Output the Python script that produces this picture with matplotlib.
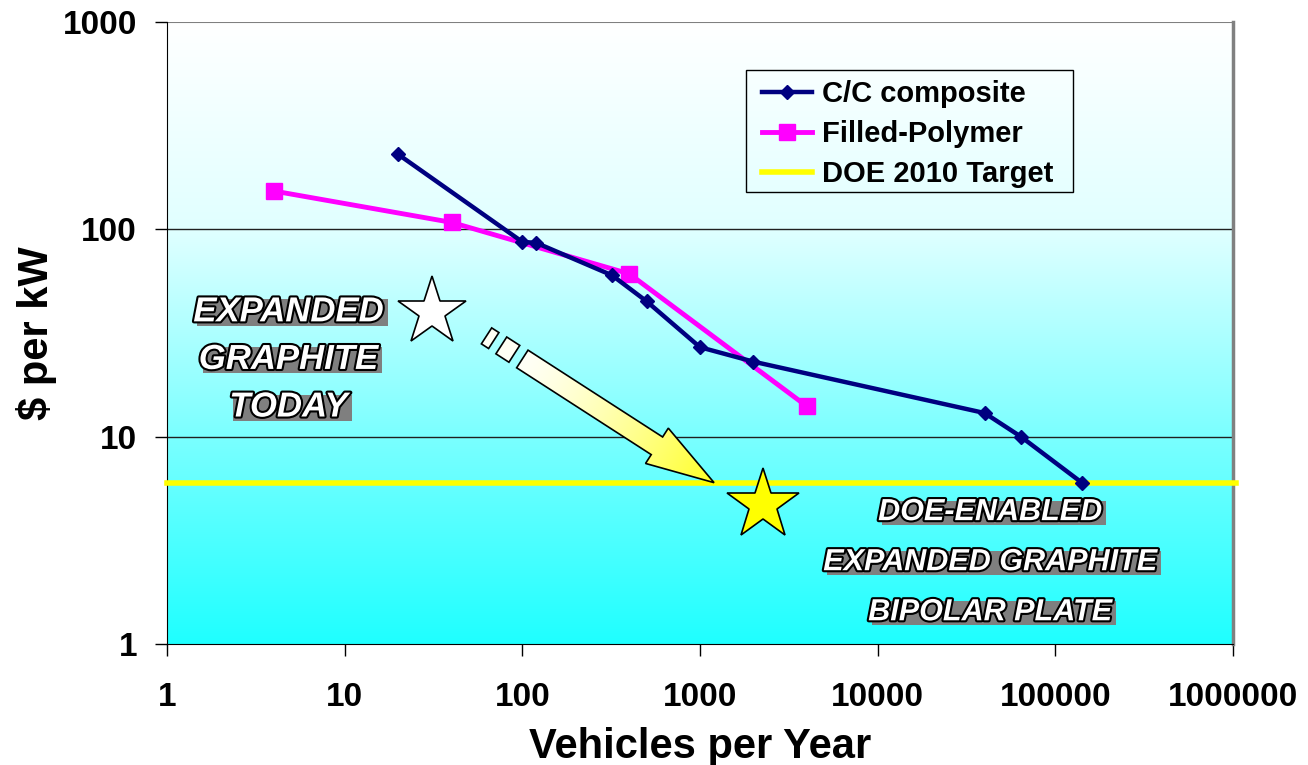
import numpy as np
import matplotlib
matplotlib.use('Agg')
import matplotlib.pyplot as plt
import matplotlib.patheffects as pe
from matplotlib.patches import Polygon, Rectangle
from matplotlib.ticker import FixedLocator, NullLocator

plt.rcParams['font.family'] = ['Liberation Sans', 'DejaVu Sans']
plt.rcParams['font.weight'] = 'bold'
plt.rcParams['axes.labelweight'] = 'bold'

# %%
# data
cc_vehicles = [20, 100, 120, 320, 500, 1000, 2000, 40000, 64000, 141000]
cc_cost = [230, 87, 86, 60, 45, 27, 23, 13, 10, 6]

fp_vehicles = [4, 40, 400, 4000]
fp_cost = [153, 108, 61, 14]

doe_target = 6

x_ticks = [1, 10, 100, 1000, 10000, 100000, 1000000]
x_labels = ['1', '10', '100', '1000', '10000', '100000', '1000000']
y_ticks = [1, 10, 100, 1000]
y_labels = ['1', '10', '100', '1000']

# annotation anchors in data coords
star_today = (31, 40)
star_doe = (2260, 4.7)
arrow_tail = (100, 23.7)
arrow_tip = (1200, 6)

left_text = ['EXPANDED', 'GRAPHITE', 'TODAY']
right_text = ['DOE-ENABLED', 'EXPANDED GRAPHITE', 'BIPOLAR PLATE']

# %%
W, H = 1308, 765
fig = plt.figure(figsize=(W / 100, H / 100), dpi=100)
ax = fig.add_axes([167 / W, 1 - 644 / H, (1233 - 167) / W, (644 - 22) / H])
ax.set_xscale('log')
ax.set_yscale('log')
ax.set_xlim(1, 1e6)
ax.set_ylim(1, 1000)

# background gradient, whitish at top to cyan at bottom
f = np.linspace(0, 1, 400)
r = np.interp(f, [0, 0.333, 0.667, 1.0], [0.12, 0.48, 0.88, 1.0])
grad = np.zeros((400, 1, 3))
grad[:, 0, 0] = r[::-1]
grad[:, 0, 1] = 1
grad[:, 0, 2] = 1
ax.patch.set_visible(False)
ax.imshow(grad, extent=[0, 1, 0, 1], transform=ax.transAxes, aspect='auto',
          zorder=0, interpolation='bilinear')
ax.set_xlim(1, 1e6)
ax.set_ylim(1, 1000)

for yv in [10, 100]:
    ax.axhline(yv, color='#202020', lw=1.0, zorder=1)
ax.axhline(1000, color='#808080', lw=1.5, zorder=1)

ax.axhline(doe_target, color='#FFFF00', lw=4, zorder=3, label='DOE 2010 Target',
           clip_on=False, xmax=1.003)
ax.plot(cc_vehicles, cc_cost, color='#000080', lw=3.2, marker='D', ms=7,
        zorder=5, label='C/C composite')
ax.plot(fp_vehicles, fp_cost, color='#FF00FF', lw=3.5, marker='s', ms=11,
        zorder=4, label='Filled-Polymer')

# stars
ax.plot(*star_today, marker='*', ms=52, mfc='white', mec='black', mew=1.2, zorder=6)
ax.plot(*star_doe, marker='*', ms=54, mfc='#FFFF00', mec='black', mew=1.2, zorder=6)

# axes styling
ax.spines['top'].set_visible(False)
ax.spines['right'].set_color('#808080')
ax.spines['right'].set_linewidth(2.5)
ax.spines['left'].set_color('black')
ax.spines['bottom'].set_color('black')
ax.xaxis.set_major_locator(FixedLocator(x_ticks))
ax.yaxis.set_major_locator(FixedLocator(y_ticks))
ax.xaxis.set_minor_locator(NullLocator())
ax.yaxis.set_minor_locator(NullLocator())
ax.set_xticklabels(x_labels)
ax.set_yticklabels(y_labels)
ax.tick_params(axis='both', direction='out', length=8.6, width=1, labelsize=24)
ax.tick_params(axis='x', pad=19)
ax.tick_params(axis='y', pad=13)
ax.set_xlabel('Vehicles per Year', fontsize=30, labelpad=10)
ax.set_ylabel('\\$ per kW', fontsize=30, labelpad=4)

h, l = ax.get_legend_handles_labels()
order = [1, 2, 0]
leg = ax.legend([h[i] for i in order], [l[i] for i in order],
                loc='upper left', bbox_to_anchor=(0.5513, 0.918),
                borderaxespad=0, fontsize=21, frameon=False,
                handlelength=1.72, handletextpad=0.34, labelspacing=0.41,
                borderpad=0.24)
leg.set_zorder(10)

# %%
# overlay in figure pixels for the arrow and callout text
ov = fig.add_axes([0, 0, 1, 1])
ov.set_xlim(0, W)
ov.set_ylim(0, H)
ov.axis('off')
ov.set_zorder(5)

tail = ax.transData.transform(arrow_tail)
tip = ax.transData.transform(arrow_tip)
u = (tip - tail) / np.hypot(*(tip - tail))
n = np.array([-u[1], u[0]])
L = np.hypot(*(tip - tail))
shaft_w, head_w, head_len = 21, 42, 68

base = tip - u * head_len
arrow_pts = [tail + n * shaft_w / 2, base + n * shaft_w / 2, base + n * head_w / 2,
             tip, base - n * head_w / 2, base - n * shaft_w / 2, tail - n * shaft_w / 2]

yy, xx = np.mgrid[0:H, 0:W]
t = ((xx - tail[0]) * u[0] + (yy - tail[1]) * u[1]) / L
t = np.clip(t, 0, 1) ** 1.3
img = np.zeros((H, W, 3))
img[..., 0] = 1
img[..., 1] = 1
img[..., 2] = 0.97 * (1 - t) + 0.15 * t

arrow = Polygon(arrow_pts, closed=True, fc='none', ec='black', lw=1.2, zorder=3)
ov.add_patch(arrow)
im = ov.imshow(img, extent=[0, W, 0, H], origin='lower', zorder=2, aspect='auto')
im.set_clip_path(arrow)

# broken dashes behind the arrow tail
for s0, s1, w in [(-25, -9.5, 20), (-42.6, -34, 19)]:
    p0 = tail + u * s0
    p1 = tail + u * s1
    pts = [p0 + n * w / 2, p1 + n * w / 2, p1 - n * w / 2, p0 - n * w / 2]
    ov.add_patch(Polygon(pts, closed=True, fc='#FFFFF4', ec='black', lw=1.2, zorder=3))

ov.set_xlim(0, W)
ov.set_ylim(0, H)

# callout text: white bold italic, black outline, grey shadow block
fx = ax.transAxes.transform
callouts = []
for i, s in enumerate(left_text):
    p = fx((0.114, 0.534 - i * 0.0765))
    callouts.append((p, s, 25))
for i, s in enumerate(right_text):
    p = fx((0.772, 0.212 - i * 0.0805))
    callouts.append((p, s, 22))

texts = []
for p, s, fs in callouts:
    txt = ov.text(p[0], p[1], s, fontsize=fs, style='italic', fontweight='bold',
                  color='white', ha='center', va='center', zorder=8,
                  path_effects=[pe.Stroke(linewidth=3, foreground='black'), pe.Normal()])
    texts.append((txt, fs))

fig.canvas.draw()
for txt, fs in texts:
    bb = txt.get_window_extent()
    desc = 0.19 * fs * 100 / 72
    ov.add_patch(Rectangle((bb.x0 + 4, bb.y0 + desc - 4), bb.width,
                           bb.height - desc, fc='#7F7F7F', ec='none', zorder=7))

# legend border, wider than the legend box
lb = leg.get_window_extent()
ov.add_patch(Rectangle((lb.x0 - 9, lb.y0 + 3), lb.width + 22, lb.height,
                       fc='none', ec='black', lw=1.0, zorder=9))

fig.savefig('out.png', dpi=100)
